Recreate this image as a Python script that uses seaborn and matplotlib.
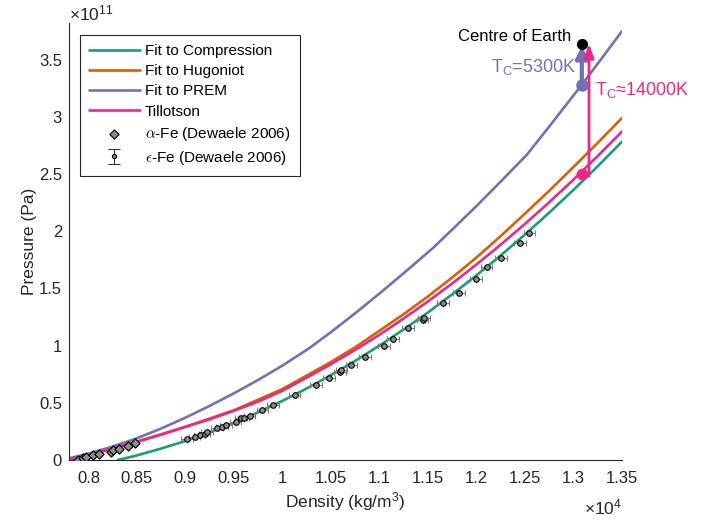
import numpy as np
import pandas as pd
import matplotlib
matplotlib.use("Agg")
import matplotlib.pyplot as plt
from matplotlib.ticker import FuncFormatter, MultipleLocator
import seaborn as sns

# --- equation-of-state curves: density (kg/m^3) vs pressure (x1e11 Pa) ---
comp_rho = [8303, 8500, 8750, 9000, 9250, 9500, 9750, 10000, 10250, 10500,
            10750, 11000, 11250, 11500, 11750, 12000, 12250, 12500, 12750,
            13000, 13250, 13500]
comp_p = [0.0, 0.04, 0.10, 0.166, 0.242, 0.325, 0.417, 0.517, 0.625, 0.742,
          0.867, 1.0, 1.141, 1.29, 1.448, 1.614, 1.788, 1.971, 2.162, 2.361,
          2.568, 2.783]

hug_rho = [7800, 8000, 8500, 9000, 9500, 10000, 10250, 10500, 10750, 11000,
           11250, 11500, 11750, 12000, 12250, 12500, 12750, 13000, 13250,
           13500]
hug_p = [0.0, 0.04, 0.16, 0.29, 0.435, 0.62, 0.738, 0.857, 0.985, 1.13,
         1.275, 1.43, 1.595, 1.77, 1.957, 2.154, 2.353, 2.561, 2.772, 2.99]

prem_rho = [7800, 8000, 8250, 8500, 8750, 9000, 9250, 9500, 9750, 10000,
            10281, 10500, 10750, 11000, 11250, 11554, 11750, 12000, 12250,
            12518, 12750, 13086, 13300, 13500]
prem_p = [0.015, 0.055, 0.118, 0.19, 0.275, 0.37, 0.473, 0.583, 0.70, 0.825,
          0.98, 1.118, 1.283, 1.455, 1.633, 1.855, 2.014, 2.22, 2.434, 2.667,
          2.915, 3.281, 3.521, 3.749]

till_rho = [7800, 8000, 8250, 8500, 8750, 9000, 9250, 9500, 9750, 10000,
            10250, 10500, 10750, 11000, 11250, 11500, 11750, 12000, 12250,
            12500, 12750, 13000, 13250, 13500]
till_p = [0.0, 0.04, 0.10, 0.16, 0.22, 0.29, 0.355, 0.43, 0.51, 0.605,
          0.72, 0.837, 0.962, 1.095, 1.237, 1.386, 1.543, 1.709, 1.882,
          2.064, 2.253, 2.451, 2.657, 2.871]

# --- Dewaele 2006 measurements ---
alpha_rho = [7890, 7942, 7976, 8044, 8114, 8234, 8251, 8320, 8406, 8485]
alpha_p = [0.0, 0.015, 0.024, 0.044, 0.053, 0.073, 0.088, 0.10, 0.12, 0.146]

eps_rho = [9015, 9094, 9146, 9198, 9221, 9328, 9380, 9421, 9517, 9576, 9600,
           9662, 9793, 9903, 10126, 10343, 10480, 10591, 10608, 10711, 10849,
           11045, 11141, 11296, 11444, 11458, 11658, 11823, 11995, 12105,
           12250, 12449, 12545]
eps_p = [0.18, 0.20, 0.22, 0.23, 0.245, 0.277, 0.286, 0.306, 0.335, 0.365,
         0.37, 0.385, 0.437, 0.478, 0.565, 0.656, 0.72, 0.773, 0.79, 0.83,
         0.90, 1.0, 1.056, 1.15, 1.225, 1.245, 1.37, 1.464, 1.58, 1.69, 1.77,
         1.896, 1.98]
eps_rho_err = 60

# --- centre of Earth ---
core_rho = 13086
core_p = 3.64
prem_core_p = 3.28
till_core_p = 2.50
till_arrow_rho = 13160

SCALE = 1e11
GREEN, ORANGE, PURPLE, PINK = "#1b9e77", "#d95f02", "#7570b3", "#e7298a"
INK = "#262626"

sns.set_theme(style="white")
plt.rcParams["font.family"] = ["Liberation Sans", "DejaVu Sans"]
plt.rcParams["mathtext.fontset"] = "custom"
plt.rcParams["mathtext.rm"] = "Liberation Sans"
plt.rcParams["mathtext.it"] = "Liberation Sans:italic"
plt.rcParams["mathtext.bf"] = "Liberation Sans:bold"

fig = plt.figure(figsize=(7.13, 5.20), dpi=100)
ax = fig.add_axes([69 / 713, 60 / 520, 553 / 713, 437 / 520])


def curve(rho, p, color, label):
    df = pd.DataFrame({"rho": rho, "p": np.asarray(p) * SCALE})
    sns.lineplot(data=df, x="rho", y="p", color=color, lw=1.9, label=label,
                 sort=False, ax=ax)


curve(comp_rho, comp_p, GREEN, "Fit to Compression")
curve(hug_rho, hug_p, ORANGE, "Fit to Hugoniot")
curve(prem_rho, prem_p, PURPLE, "Fit to PREM")
curve(till_rho, till_p, PINK, "Tillotson")

# alpha-Fe diamonds
sns.scatterplot(x=alpha_rho, y=np.asarray(alpha_p) * SCALE, marker="D", s=22,
                color="#8c8c8c", edgecolor="black", linewidth=0.8,
                label=r"$\alpha$-Fe (Dewaele 2006)", ax=ax, zorder=5)

# epsilon-Fe points with horizontal error bars
ax.errorbar(eps_rho, np.asarray(eps_p) * SCALE, xerr=eps_rho_err, fmt="o",
            ms=4, mfc="#8c8c8c", mec="black", mew=0.8, ecolor="#7f7f7f",
            elinewidth=0.8, capsize=2.5, zorder=6)
# legend entry drawn with a vertical bar
ax.errorbar([np.nan], [np.nan], yerr=[1], fmt="o", ms=3, mfc="#8c8c8c",
            mec="black", mew=0.8, ecolor="#333333", elinewidth=0.8,
            capsize=4, label=r"$\epsilon$-Fe (Dewaele 2006)")

# centre of Earth markers and arrows
ax.annotate("", xy=(core_rho, core_p * SCALE - 0.02e11),
            xytext=(core_rho, prem_core_p * SCALE),
            arrowprops=dict(arrowstyle="-|>,head_length=0.6,head_width=0.3",
                            color=PURPLE, lw=3.0, shrinkA=0, shrinkB=0),
            zorder=7)
ax.annotate("", xy=(till_arrow_rho, core_p * SCALE),
            xytext=(till_arrow_rho, till_core_p * SCALE - 0.02e11),
            arrowprops=dict(arrowstyle="-|>,head_length=0.7,head_width=0.25",
                            color=PINK, lw=2.0, shrinkA=0, shrinkB=0),
            zorder=7)
ax.plot([core_rho], [prem_core_p * SCALE], "o", color=PURPLE, ms=8, zorder=8)
ax.plot([core_rho], [till_core_p * SCALE], "o", color=PINK, ms=7.5, zorder=8)
ax.plot([core_rho], [core_p * SCALE], "o", color="black", ms=7, zorder=9)

ax.text(12975, 3.70 * SCALE, "Centre of Earth", ha="right", va="center",
        fontsize=12, color="black")
ax.text(13025, 3.39 * SCALE, r"T$_\mathrm{C}$=5300K", ha="right",
        va="baseline", fontsize=13, color=PURPLE)
ax.text(13225, 3.19 * SCALE, r"T$_\mathrm{C}$≈14000K", ha="left",
        va="baseline", fontsize=13, color=PINK)

# axes styling
ax.set_xlim(7800, 13500)
ax.set_ylim(0, 3.82e11)
ax.xaxis.set_major_locator(MultipleLocator(500))
ax.yaxis.set_major_locator(MultipleLocator(0.5e11))
ax.xaxis.set_major_formatter(FuncFormatter(lambda v, _: f"{v / 1e4:g}"))
ax.yaxis.set_major_formatter(FuncFormatter(lambda v, _: f"{v / SCALE:g}"))
ax.tick_params(direction="in", length=5, width=0.7, colors=INK,
               labelsize=12)
ax.tick_params(axis="x", pad=8)
ax.tick_params(axis="y", pad=5)
for side in ("top", "right"):
    ax.spines[side].set_visible(False)
for side in ("left", "bottom"):
    ax.spines[side].set_color(INK)
    ax.spines[side].set_linewidth(0.8)

ax.set_xlabel(r"Density (kg/m$^3$)", fontsize=12.5, color=INK, labelpad=3)
ax.set_ylabel("Pressure (Pa)", fontsize=12.5, color=INK, labelpad=1.5)
ax.text(0.0, 1.0, r"$\times10^{11}$", transform=ax.transAxes, ha="left",
        va="bottom", fontsize=12.5, color=INK)
ax.text(1.0, -0.108, r"$\times10^{4}$", transform=ax.transAxes, ha="right",
        va="center", fontsize=12.5, color=INK)

leg = ax.legend(loc="upper left", bbox_to_anchor=(0.02, 0.9725), fontsize=11,
                frameon=True, fancybox=False, framealpha=1, edgecolor=INK,
                handlelength=3.3, labelspacing=0.4, borderpad=0.6,
                handletextpad=0.35, borderaxespad=0)
leg.get_frame().set_linewidth(0.8)
for t in leg.get_texts():
    t.set_color("black")
    if "Dewaele" in t.get_text():
        t.set_math_fontfamily("cm")

fig.savefig("out.png", dpi=100)
